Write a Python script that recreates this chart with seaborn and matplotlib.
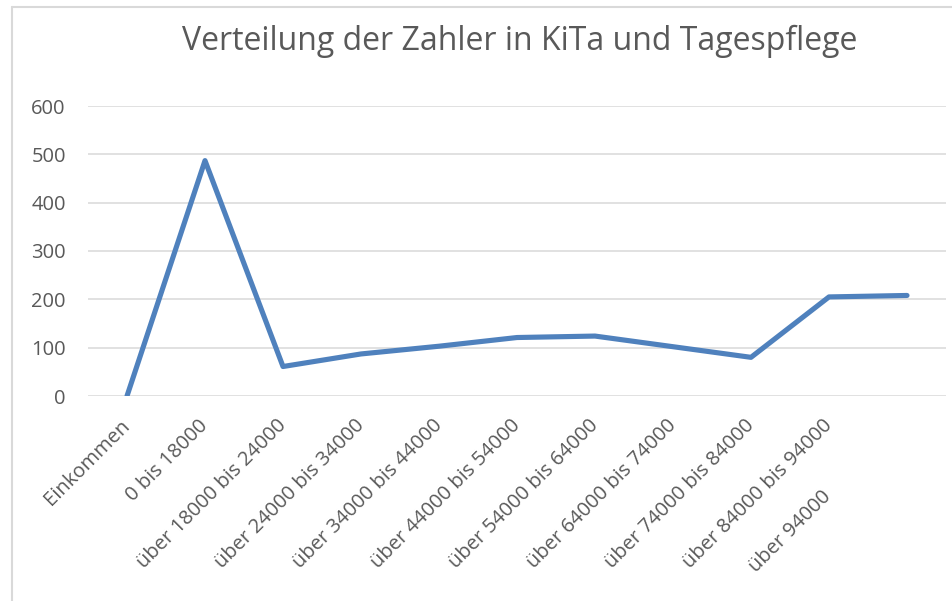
import matplotlib
matplotlib.use("Agg")
import matplotlib.pyplot as plt
import matplotlib.transforms as mtransforms
import seaborn as sns
import pandas as pd
from matplotlib.lines import Line2D

categories = ["Einkommen", "0 bis 18000", "über 18000 bis 24000", "über 24000 bis 34000",
              "über 34000 bis 44000", "über 44000 bis 54000", "über 54000 bis 64000",
              "über 64000 bis 74000", "über 74000 bis 84000", "über 84000 bis 94000",
              "über 94000"]
values = [0, 487, 61, 87, 103, 121, 124, 102, 80, 205, 208]
y_ticks = [0, 100, 200, 300, 400, 500, 600]
title = "Verteilung der Zahler in KiTa und Tagespflege"

sns.set_theme(style="white")
plt.rcParams["font.family"] = ["Open Sans", "DejaVu Sans"]

W, H = 953, 601
fig = plt.figure(figsize=(W / 100, H / 100), dpi=100)
ax = fig.add_axes([88 / W, 1 - 396 / H, (946 - 88) / W, (396 - 106) / H])

df = pd.DataFrame({"pos": range(len(categories)), "cat": categories, "val": values})
sns.lineplot(data=df, x="pos", y="val", ax=ax, color="#4f81bd", linewidth=3.7,
             sort=False, solid_capstyle="round", solid_joinstyle="round")

ax.set_xlim(-0.5, len(categories) - 0.5)
ax.set_ylim(0, 600)
ax.set_yticks(y_ticks)
ax.set_yticklabels([str(v) for v in y_ticks])
ax.yaxis.grid(True, color="#d9d9d9", linewidth=1.1)
ax.set_axisbelow(True)
for s in ax.spines.values():
    s.set_visible(False)
ax.set_xlabel("")
ax.set_ylabel("")

ax.tick_params(axis="y", length=0, pad=16, labelsize=14.5, labelcolor="#595959")
ax.tick_params(axis="x", length=0, pad=17, labelsize=14.5, labelcolor="#595959")
ax.set_xticks(range(len(categories)))
labels = list(categories[:-1]) + [""]
ax.set_xticklabels(labels, rotation=45, ha="right", rotation_mode="anchor")
shift = mtransforms.ScaledTranslation(-7 / 100, 4 / 100, fig.dpi_scale_trans)
for lab in ax.get_xticklabels():
    lab.set_transform(lab.get_transform() + shift)

# last label is displaced by the layout (as in reference)
ax.annotate(categories[-1], xy=(len(categories) - 1, 0), xycoords="data",
            xytext=(-62, -65), textcoords="offset points",
            rotation=45, rotation_mode="anchor", ha="right", va="top",
            fontsize=14.5, color="#595959")

fig.text(520 / W, 1 - 50 / H, title, ha="center", va="baseline",
         fontsize=23, color="#595959")

# chart border (left and top)
fig.add_artist(Line2D([12 / W, 12 / W], [0, 1 - 7 / H], transform=fig.transFigure,
                      color="#d9d9d9", linewidth=1.5))
fig.add_artist(Line2D([12 / W, 1], [1 - 7 / H, 1 - 7 / H], transform=fig.transFigure,
                      color="#d9d9d9", linewidth=1.5))

fig.savefig("out.png", dpi=100)
